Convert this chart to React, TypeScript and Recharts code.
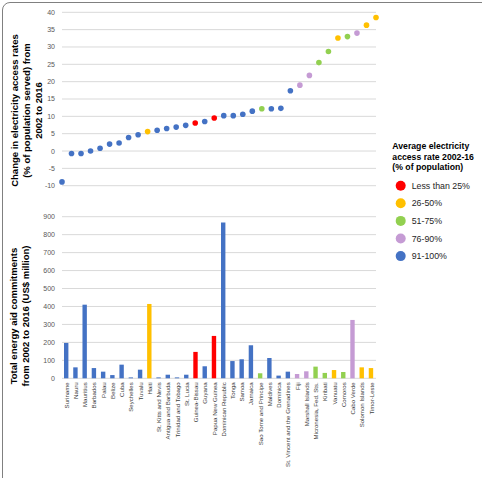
import React from "react";
import {
  ComposedChart,
  BarChart,
  Bar,
  Scatter,
  Cell,
  XAxis,
  YAxis,
  CartesianGrid,
} from "recharts";

const countries = [
  "Suriname", "Nauru", "Mauritius", "Barbados", "Palau", "Belize", "Cuba", "Seychelles",
  "Tuvalu", "Haiti", "St. Kitts and Nevis", "Antigua and Barbuda", "Trinidad and Tobago",
  "St. Lucia", "Guinea-Bissau", "Guyana", "Papua New Guinea", "Dominican Republic", "Tonga",
  "Samoa", "Jamaica", "Sao Tome and Principe", "Maldives", "Dominica",
  "St. Vincent and the Grenadines", "Fiji", "Marshall Islands", "Micronesia, Fed. Sts.",
  "Kiribati", "Vanuatu", "Comoros", "Cabo Verde", "Solomon Islands", "Timor-Leste",
];

// change in access rate, percentage points 2002-2016
const accessChange = [
  -8.9, -0.7, -0.7, 0, 0.8, 2.0, 2.3, 3.9, 4.7, 5.6, 6.0, 6.5, 6.9, 7.4, 8.1, 8.5, 9.5,
  10.2, 10.2, 10.6, 11.5, 12.2, 12.2, 12.3, 17.4, 19.0, 21.8, 25.5, 28.7, 32.6, 33.0, 34.0,
  36.3, 38.5,
];

// total energy aid, US$ million
const aidCommitments = [
  197, 61, 410, 57, 37, 18, 76, 5, 48, 414, 5, 20, 5, 20, 147, 67, 236, 868, 96, 106, 184,
  28, 113, 15, 37, 24, 39, 65, 30, 46, 35, 325, 61, 57,
];

// index into accessBands
const accessGroup = [
  4, 4, 4, 4, 4, 4, 4, 4, 4, 1, 4, 4, 4, 4, 0, 4, 0, 4, 4, 4, 4, 2, 4, 4, 4, 3, 3, 2, 2, 1,
  2, 3, 1, 1,
];

const accessBands = ["Less than 25%", "26-50%", "51-75%", "76-90%", "91-100%"];
const bandColors = ["#FF0000", "#FFC000", "#92D050", "#C59BD4", "#4472C4"];

const changeTicks = [-10, -5, 0, 5, 10, 15, 20, 25, 30, 35, 40];
const aidTicks = [0, 100, 200, 300, 400, 500, 600, 700, 800, 900];

const rows = countries.map((country, i) => ({
  country,
  change: accessChange[i],
  aid: aidCommitments[i],
  color: bandColors[accessGroup[i]],
}));

const FONT = "'Liberation Sans', Arial, sans-serif";
const tickStyle = { fontSize: 7, fill: "#595959", fontFamily: FONT };

function CountryTick({ x, y, payload }: any) {
  return (
    <g transform={`translate(${x},${y})`}>
      <text
        transform="rotate(-90)"
        textAnchor="end"
        dy="0.35em"
        fontSize={6.1}
        fill="#404040"
        fontFamily={FONT}
      >
        {payload.value}
      </text>
    </g>
  );
}

function Dot({ cx, cy, fill }: any) {
  return <circle cx={cx} cy={cy} r={2.8} fill={fill} />;
}

function AxisTitle({ lines, x, y }: { lines: string[]; x: number; y: number }) {
  return (
    <text
      transform={`translate(${x},${y}) rotate(-90)`}
      textAnchor="middle"
      fontSize={9.5}
      fontWeight="bold"
      fontFamily={FONT}
      fill="#000"
    >
      {lines.map((l, i) => (
        <tspan key={i} x={0} y={i * 12} dy="0.35em">
          {l}
        </tspan>
      ))}
    </text>
  );
}

export default function App() {
  return (
    <div
      style={{
        position: "absolute",
        left: 0,
        top: 0,
        width: 482,
        height: 478,
        overflow: "hidden",
        background: "#fff",
        fontFamily: FONT,
      }}
    >
      {/* outer frame; only its top and left edges fall inside the figure */}
      <div
        style={{
          position: "absolute",
          left: 2,
          top: 2,
          width: 490,
          height: 500,
          border: "1px solid #808080",
          borderRadius: 8,
          boxSizing: "border-box",
        }}
      />

      <div style={{ position: "absolute", left: 0, top: 0 }}>
        <ComposedChart
          width={482}
          height={200}
          data={rows}
          margin={{ top: 12.3, right: 106, bottom: 14.3, left: 42 }}
        >
          <CartesianGrid vertical={false} stroke="#d9d9d9" />
          <XAxis dataKey="country" type="category" hide />
          <YAxis
            width={20}
            domain={[-10, 40]}
            ticks={changeTicks}
            axisLine={false}
            tickLine={false}
            tickSize={0}
            tickMargin={7}
            tick={tickStyle}
            interval={0}
          />
          <Scatter dataKey="change" shape={<Dot />} isAnimationActive={false}>
            {rows.map((r) => (
              <Cell key={r.country} fill={r.color} />
            ))}
          </Scatter>
        </ComposedChart>
      </div>

      <div style={{ position: "absolute", left: 0, top: 200 }}>
        <BarChart
          width={482}
          height={278}
          data={rows}
          margin={{ top: 16.7, right: 106, bottom: 4.7, left: 42 }}
        >
          <CartesianGrid vertical={false} stroke="#d9d9d9" />
          <XAxis
            dataKey="country"
            height={95}
            interval={0}
            axisLine={false}
            tickLine={false}
            tickSize={0}
            tickMargin={4}
            tick={<CountryTick />}
          />
          <YAxis
            width={20}
            domain={[0, 900]}
            ticks={aidTicks}
            axisLine={false}
            tickLine={false}
            tickSize={0}
            tickMargin={7}
            tick={tickStyle}
            interval={0}
          />
          <Bar dataKey="aid" barSize={4.4} isAnimationActive={false}>
            {rows.map((r) => (
              <Cell key={r.country} fill={r.color} />
            ))}
          </Bar>
        </BarChart>
      </div>

      <svg
        width={482}
        height={478}
        style={{ position: "absolute", left: 0, top: 0, pointerEvents: "none" }}
      >
        <AxisTitle
          x={15}
          y={110.5}
          lines={[
            "Change in electricity access rates",
            "(% of population served) from",
            "2002 to 2016",
          ]}
        />
        <AxisTitle
          x={14}
          y={316}
          lines={["Total energy aid commitments", "from 2002 to 2016 (US$ million)"]}
        />
        <text fontSize={8.7} fontWeight="bold" fontFamily={FONT} fill="#000">
          {["Average electricity", "access rate 2002-16", "(% of population)"].map((l, i) => (
            <tspan key={i} x={392.3} y={145.7 + i * 10.8} dy="0.35em">
              {l}
            </tspan>
          ))}
        </text>
        {accessBands.map((label, i) => (
          <g key={label}>
            <circle cx={400.7} cy={185.7 + i * 17.6} r={5} fill={bandColors[i]} />
            <text
              x={411.7}
              y={185.7 + i * 17.6}
              dy="0.35em"
              fontSize={8.8}
              fontFamily={FONT}
              fill="#262626"
            >
              {label}
            </text>
          </g>
        ))}
      </svg>
    </div>
  );
}
